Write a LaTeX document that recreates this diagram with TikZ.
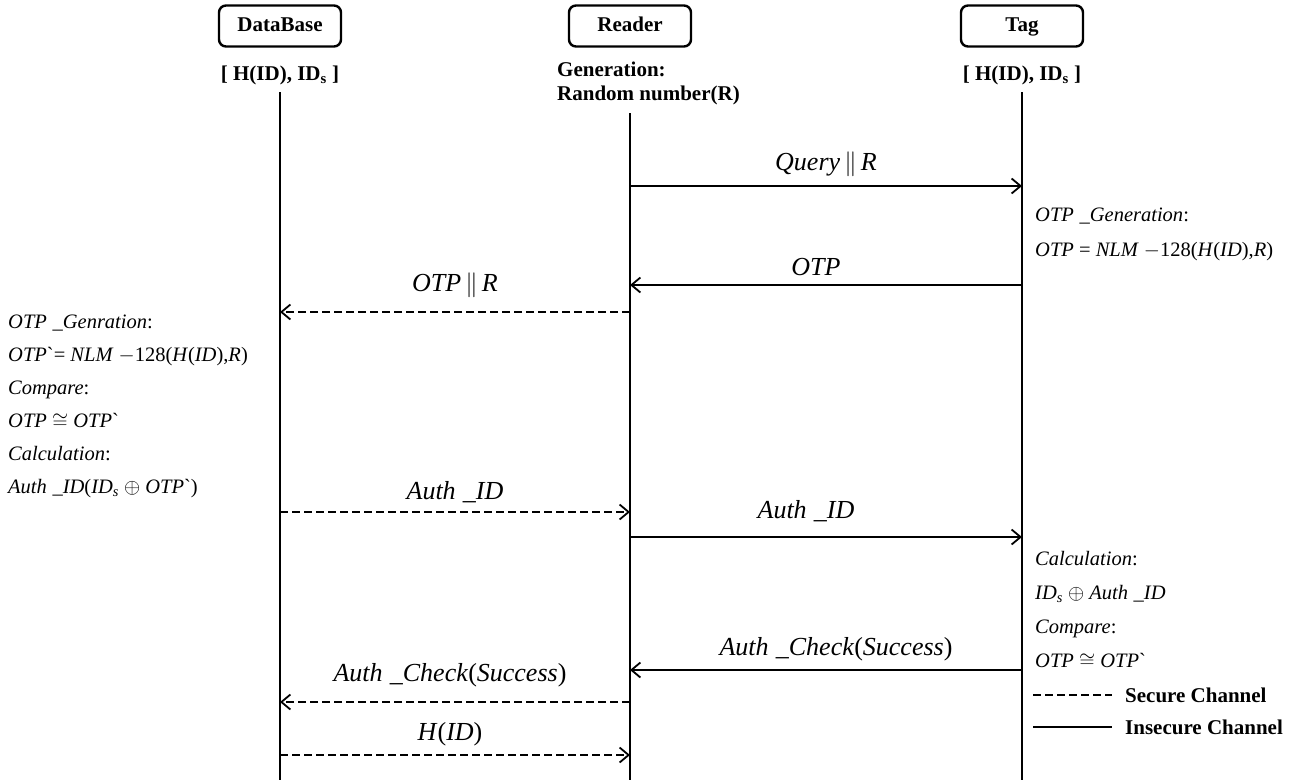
\documentclass[tikz,border=0pt]{standalone}
\usepackage{fontspec}
\setmainfont{Liberation Serif}
\usetikzlibrary{arrows.meta}
\newcommand{\vr}[1]{\textit{#1}}
\newcommand{\tck}{\textasciigrave{}}

\begin{document}
\begin{tikzpicture}[x=1pt,y=-1pt,
  party/.style={draw,rounded corners=7pt,line width=2.4pt,minimum width=122pt,minimum height=41pt,inner sep=0pt,text height=15pt,text depth=4pt,font=\fontsize{21}{24}\selectfont\bfseries},
  info/.style={inner sep=0pt,font=\fontsize{21}{24}\selectfont\bfseries},
  life/.style={line width=1.8pt},
  insecure/.style={line width=1.8pt,-{Straight Barb[length=9pt,width=15pt,line width=1.8pt]}},
  secure/.style={insecure,dash pattern=on 8pt off 4pt},
  lbl/.style={above=8pt,inner sep=0pt,font=\fontsize{26}{28}\selectfont},
  note/.style={anchor=north west,inner sep=0pt,align=left,font=\fontsize{20.5}{33}\selectfont},
  legend/.style={anchor=west,inner sep=0pt,font=\fontsize{21}{24}\selectfont\bfseries}]
\useasboundingbox[fill=white] (0,0) rectangle (1309,780);

% parties
\node[party] (db) at (280,26) {DataBase};
\node[party] (rd) at (630,26) {Reader};
\node[party] (tg) at (1022,26) {Tag};
\node[info] (dbinfo) at (280,75) {[ H(ID), ID\textsubscript{s} ]};
\node[info] (tginfo) at (1022,75) {[ H(ID), ID\textsubscript{s} ]};
\node[info,anchor=north west,align=left] (rdinfo) at (557,62) {Generation:\\Random number(R)};

% lifelines
\coordinate (dbend) at (db |- 0,780);
\coordinate (rdend) at (rd |- 0,780);
\coordinate (tgend) at (tg |- 0,780);
\draw[life] (db |- 0,92) -- (dbend);
\draw[life] (rd |- 0,113) -- (rdend);
\draw[life] (tg |- 0,92) -- (tgend);

% messages
\draw[insecure] (rd |- 0,186) -- node[lbl] {\vr{Query}$\,\|\,$\vr{R}} (tg |- 0,186);
\draw[insecure] (tg |- 0,285) -- node[lbl,xshift=-10pt] {\vr{OTP}} (rd |- 0,285);
\draw[secure] (rd |- 0,312) -- node[lbl,above=5pt] {\vr{OTP}$\,\|\,$\vr{R}} (db |- 0,312);
\draw[secure] (db |- 0,512) -- node[lbl] {\vr{Auth\;\_ID}} (rd |- 0,512);
\draw[insecure] (rd |- 0,537) -- node[lbl,above=6pt,xshift=-20pt] {\vr{Auth\;\_ID}} (tg |- 0,537);
\draw[insecure] (tg |- 0,670) -- node[lbl,xshift=10pt] {\vr{Auth\;\_Check}(\vr{Success})} (rd |- 0,670);
\draw[secure] (rd |- 0,702) -- node[lbl,above=6pt,xshift=-5pt] {\vr{Auth\;\_Check}(\vr{Success})} (db |- 0,702);
\draw[secure] (db |- 0,755) -- node[lbl,xshift=-5pt] {\vr{H}(\vr{ID})} (rd |- 0,755);

% computations
\node[note] (dbcalc) at (8,315) {\vr{OTP\;\_Genration}:\\
  \vr{OTP}\tck= \vr{NLM} $-$128(\vr{H}(\vr{ID}),\vr{R})\\
  \vr{Compare}:\\
  \vr{OTP} \smash{$\cong$} \vr{OTP}\tck\\
  \vr{Calculation}:\\
  \vr{Auth\;\_ID}(\vr{ID}\textsubscript{\vr{s}} \smash{$\oplus$} \vr{OTP}\tck)};
\node[note,font=\fontsize{20.5}{35}\selectfont] (tgcalc1) at (1035,208) {\vr{OTP\;\_Generation}:\\
  \vr{OTP} = \vr{NLM} $-$128(\vr{H}(\vr{ID}),\vr{R})};
\node[note,font=\fontsize{20.5}{34}\selectfont] (tgcalc2) at (1035,551) {\vr{Calculation}:\\
  \vr{ID}\textsubscript{\vr{s}} \smash{$\oplus$} \vr{Auth\;\_ID}\\
  \vr{Compare}:\\
  \vr{OTP} \smash{$\cong$} \vr{OTP}\tck};

% legend
\coordinate (sec1) at (1033,695);
\coordinate (sec2) at (1112,695);
\coordinate (ins1) at (1033,727);
\coordinate (ins2) at (1112,727);
\draw[line width=1.8pt,dash pattern=on 8pt off 4pt] (sec1) -- (sec2);
\draw[line width=1.8pt] (ins1) -- (ins2);
\node[legend] (seclbl) at (1125,695) {Secure Channel};
\node[legend] (inslbl) at (1125,727) {Insecure Channel};
\end{tikzpicture}
\end{document}
